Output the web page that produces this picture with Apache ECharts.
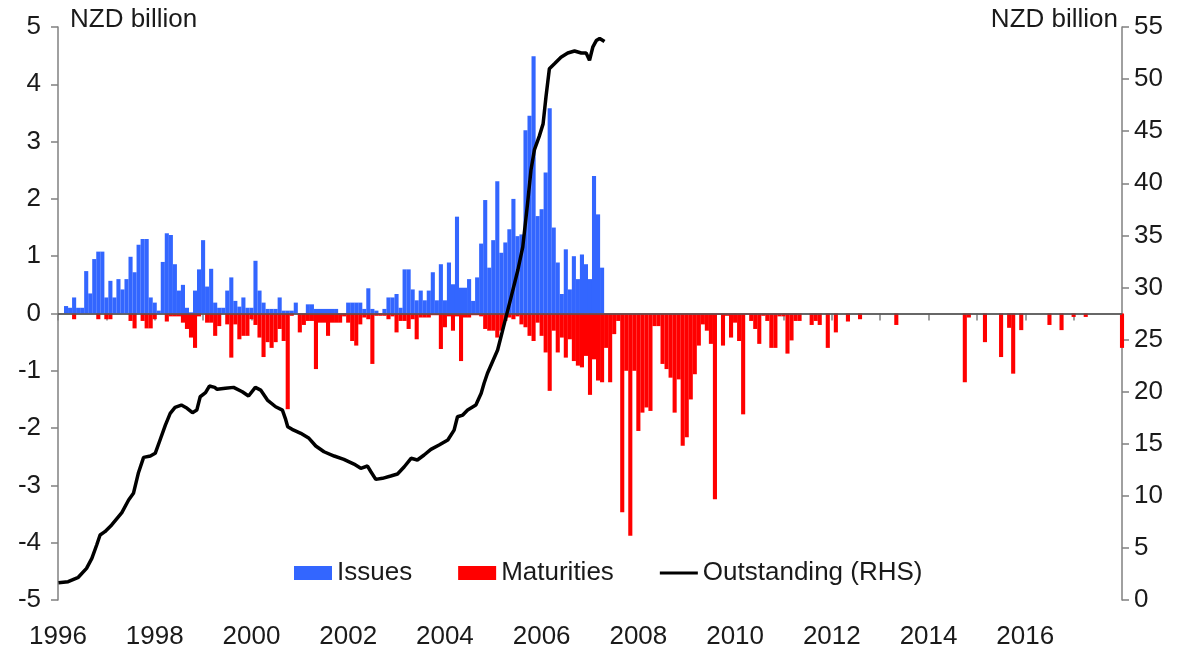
<!DOCTYPE html>
<html>
<head>
<meta charset="utf-8">
<script src="https://cdn.jsdelivr.net/npm/echarts@6/dist/echarts.min.js"></script>
<style>
html,body{margin:0;padding:0;background:#fff;}
#chart{width:1188px;height:655px;}
</style>
</head>
<body>
<div id="chart"></div>
<script>
// Monthly data starting January 1996 (index 0), NZD billion
var startYear = 1996;
var xTickLabels = ['1996','1998','2000','2002','2004','2006','2008','2010','2012','2014','2016'];

var issues = [
  0, 0.13, 0.1, 0.28, 0.1, 0.1, 0.74, 0.35, 0.95, 1.08, 1.08, 0.28,
  0.57, 0.28, 0.6, 0.42, 0.6, 0.99, 0.72, 1.2, 1.3, 1.3, 0.28, 0.19,
  0.05, 0.9, 1.4, 1.37, 0.86, 0.4, 0.5, 0.1, 0.02, 0.4, 0.77, 1.28,
  0.47, 0.78, 0.19, 0.1, 0.1, 0.4, 0.63, 0.22, 0.12, 0.28, 0.1, 0.1,
  0.92, 0.4, 0.19, 0.08, 0.08, 0.08, 0.28, 0.05, 0.05, 0.05, 0.19, 0,
  0, 0.16, 0.16, 0.08, 0.08, 0.08, 0.08, 0.08, 0.08, 0, 0, 0.19,
  0.19, 0.19, 0.19, 0.08, 0.44, 0.08, 0.05, 0, 0.08, 0.28, 0.28, 0.34,
  0.1, 0.77, 0.77, 0.42, 0.23, 0.4, 0.23, 0.4, 0.72, 0.23, 0.86, 0.23,
  0.89, 0.51, 1.69, 0.45, 0.45, 0.6, 0.22, 0.63, 1.22, 1.98, 0.8, 1.28,
  2.31, 1.06, 1.24, 1.47, 2.0, 1.35, 1.38, 3.2, 3.45, 4.49, 1.7, 1.82,
  2.46, 3.58, 1.5, 0.89, 0.34, 1.12, 0.42, 1.0, 0.6, 1.03, 0.86, 0.6,
  2.4, 1.73, 0.8
];

var maturities = [
  0, 0, 0, -0.1, 0, 0, 0, 0, 0, -0.1, 0, -0.1,
  -0.1, 0, 0, 0, 0, -0.13, -0.26, 0, -0.13, -0.26, -0.26, -0.1,
  0, 0, -0.14, -0.05, -0.05, -0.05, -0.16, -0.27, -0.42, -0.6, -0.05, 0,
  -0.16, -0.16, -0.39, -0.22, 0, -0.19, -0.77, -0.19, -0.45, -0.39, -0.39, -0.1,
  -0.2, -0.42, -0.76, -0.5, -0.6, -0.5, -0.27, -0.48, -1.67, -0.04, 0, -0.33,
  -0.2, -0.13, -0.13, -0.97, -0.16, -0.16, -0.39, -0.16, -0.16, -0.16, -0.05, -0.16,
  -0.48, -0.56, -0.19, -0.07, -0.1, -0.88, -0.04, -0.04, -0.04, -0.1, -0.05, -0.33,
  -0.13, -0.13, -0.27, -0.1, -0.45, -0.07, -0.07, -0.07, -0.03, -0.03, -0.62, -0.24,
  -0.05, -0.3, -0.05, -0.83, -0.07, -0.07, -0.03, -0.03, -0.05, -0.27, -0.3, -0.3,
  -0.42, -0.3, -0.13, -0.07, -0.1, -0.05, -0.19, -0.24, -0.39, -0.48, -0.16, -0.39,
  -0.68, -1.35, -0.3, -0.68, -0.42, -0.77, -0.45, -0.83, -0.91, -0.94, -0.74, -1.42,
  -0.8, -1.17, -1.2, -0.6, -1.2, -0.36, -0.13, -3.47, -1.0, -3.88, -1.0, -2.05,
  -1.73, -1.64, -1.7, -0.22, -0.22, -0.88, -0.97, -1.12, -1.73, -1.15, -2.31, -2.16,
  -1.5, -1.06, -0.56, -0.19, -0.3, -0.53, -3.24, -0.02, -0.56, -0.04, -0.42, -0.16,
  -0.48, -1.76, -0.02, -0.13, -0.27, -0.53, -0.04, -0.13, -0.6, -0.6, -0.05, -0.05,
  -0.7, -0.47, -0.13, -0.13, 0, 0, -0.2, -0.13, -0.2, 0, -0.6, 0,
  -0.33, 0, 0, -0.14, 0, 0, -0.1, 0, 0, 0, 0, 0,
  0, 0, 0, -0.2, 0, 0, 0, 0, 0, 0, 0, 0,
  0, 0, 0, 0, 0, 0, 0, 0, -1.2, -0.07, 0, 0,
  0, -0.5, 0, 0, 0, -0.76, 0, -0.25, -1.05, 0, -0.29, 0,
  0, 0, 0, 0, 0, -0.2, 0, 0, -0.29, 0, 0, -0.06,
  0, 0, -0.06, 0, 0, 0, 0, 0, 0, 0, 0, -0.6
];

// Outstanding stock (RHS), read at decimal-year positions
var outYears = [1996.01, 1996.21, 1996.42, 1996.59, 1996.70, 1996.80, 1996.87, 1996.97, 1997.11, 1997.32,
  1997.46, 1997.56, 1997.66, 1997.77, 1997.91, 1998.01, 1998.11, 1998.22, 1998.32, 1998.42,
  1998.55, 1998.67, 1998.78, 1998.87, 1998.94, 1999.05, 1999.13, 1999.24, 1999.29, 1999.46,
  1999.63, 1999.81, 1999.94, 2000.08, 2000.19, 2000.33, 2000.50, 2000.64, 2000.70, 2000.75,
  2000.84, 2001.02, 2001.19, 2001.33, 2001.50, 2001.71, 2001.91, 2002.12, 2002.26, 2002.40,
  2002.47, 2002.57, 2002.71, 2002.88, 2003.02, 2003.16, 2003.30, 2003.43, 2003.57, 2003.71,
  2003.88, 2004.06, 2004.19, 2004.26, 2004.37, 2004.47, 2004.64, 2004.75, 2004.81, 2004.88,
  2005.09, 2005.23, 2005.37, 2005.51, 2005.61, 2005.71, 2005.78, 2005.85, 2005.95, 2006.03,
  2006.09, 2006.16, 2006.27, 2006.40, 2006.54, 2006.68, 2006.82, 2006.92, 2006.99, 2007.06,
  2007.13, 2007.20, 2007.30];
var outValues = [1.66, 1.76, 2.18, 3.04, 4.0, 5.28, 6.24, 6.56, 7.2, 8.38,
  9.6, 10.24, 12.16, 13.69, 13.82, 14.08, 15.36, 16.79, 17.91, 18.49,
  18.71, 18.4, 17.98, 18.23, 19.51, 19.9, 20.54, 20.41, 20.22, 20.32,
  20.41, 19.99, 19.58, 20.41, 20.15, 19.19, 18.55, 18.23, 17.44, 16.63,
  16.38, 16.0, 15.52, 14.78, 14.23, 13.82, 13.5, 13.05, 12.64, 12.86,
  12.31, 11.58, 11.68, 11.9, 12.09, 12.79, 13.6, 13.44, 13.92, 14.46,
  14.88, 15.36, 16.31, 17.59, 17.75, 18.23, 18.71, 19.84, 20.8, 21.76,
  24.0, 26.55, 29.1, 31.7, 33.9, 38.1, 41.3, 43.2, 44.5, 45.7,
  48.3, 51.0, 51.5, 52.1, 52.5, 52.7, 52.5, 52.5, 51.8, 53.1,
  53.7, 53.9, 53.6];

// Build [x, y] pairs: each monthly bar sits at the end of its month
function monthly(arr) {
  return arr.map(function (v, i) { return [startYear + (i + 1) / 12, v]; });
}
var issuesData = monthly(issues);
var maturitiesData = monthly(maturities);
var outData = outYears.map(function (y, i) { return [y, outValues[i]]; });

var FONT = 'Liberation Sans, Arial, sans-serif';
var FS = 26;
var TXT = '#1a1a1a';
var AX = '#808080';
// thin horizontal bar (aspect kept) used as the legend icon of the line series
var LINE_ICON = 'path://M0,0L100,0L100,8L0,8Z';

var chart = echarts.init(document.getElementById('chart'), null, {renderer: 'canvas'});
chart.setOption({
  animation: false,
  backgroundColor: '#ffffff',
  textStyle: {fontFamily: FONT},
  grid: {left: 58, right: 66, top: 27, bottom: 55, containLabel: false},
  legend: {
    left: 289, top: 555,
    itemWidth: 38, itemHeight: 14, itemGap: 46,
    textStyle: {fontFamily: FONT, fontSize: FS, color: TXT},
    data: [
      {name: 'Issues', icon: 'rect'},
      {name: 'Maturities', icon: 'rect'},
      {name: 'Outstanding (RHS)', icon: LINE_ICON, itemStyle: {color: '#000000'}}
    ]
  },
  graphic: [
    {type: 'text', left: 70, top: 7, style: {text: 'NZD billion', fontFamily: FONT, fontSize: FS, fill: TXT}},
    {type: 'text', right: 70, top: 7, style: {text: 'NZD billion', fontFamily: FONT, fontSize: FS, fill: TXT}}
  ],
  xAxis: {
    type: 'value', min: 1996, max: 2018, interval: 1,
    axisLine: {show: true, lineStyle: {color: AX, width: 1.5}},
    axisTick: {show: true, inside: false, length: 7, lineStyle: {color: AX, width: 1.5}},
    splitLine: {show: false},
    axisLabel: {
      fontFamily: FONT, fontSize: FS, color: TXT, margin: 24,
      formatter: function (v) {
        var s = String(Math.round(v));
        return xTickLabels.indexOf(s) >= 0 ? s : '';
      }
    }
  },
  yAxis: [
    {
      type: 'value', min: -5, max: 5, interval: 1, position: 'left',
      axisLine: {show: true, lineStyle: {color: AX, width: 1.5}},
      axisTick: {show: true, inside: false, length: 7, lineStyle: {color: AX, width: 1.5}},
      splitLine: {show: false},
      axisLabel: {fontFamily: FONT, fontSize: FS, color: TXT, margin: 17}
    },
    {
      type: 'value', min: 0, max: 55, interval: 5, position: 'right',
      axisLine: {show: true, lineStyle: {color: AX, width: 1.5}},
      axisTick: {show: true, inside: false, length: 7, lineStyle: {color: AX, width: 1.5}},
      splitLine: {show: false},
      axisLabel: {fontFamily: FONT, fontSize: FS, color: TXT, margin: 12}
    }
  ],
  series: [
    {
      name: 'Issues', type: 'bar', yAxisIndex: 0,
      data: issuesData, barWidth: 4.1, barGap: '-100%',
      itemStyle: {color: '#3366ff'},
      markLine: {
        silent: true, symbol: 'none', label: {show: false},
        lineStyle: {color: '#555555', width: 1.5, type: 'solid'},
        data: [{yAxis: 0}]
      }
    },
    {
      name: 'Maturities', type: 'bar', yAxisIndex: 0,
      data: maturitiesData, barWidth: 4.1, barGap: '-100%',
      itemStyle: {color: '#ff0000'}
    },
    {
      name: 'Outstanding (RHS)', type: 'line', yAxisIndex: 1,
      data: outData, symbol: 'none', showSymbol: false, smooth: false,
      lineStyle: {color: '#000000', width: 3.5},
      itemStyle: {color: '#000000'},
      z: 5
    }
  ]
});
</script>
</body>
</html>
